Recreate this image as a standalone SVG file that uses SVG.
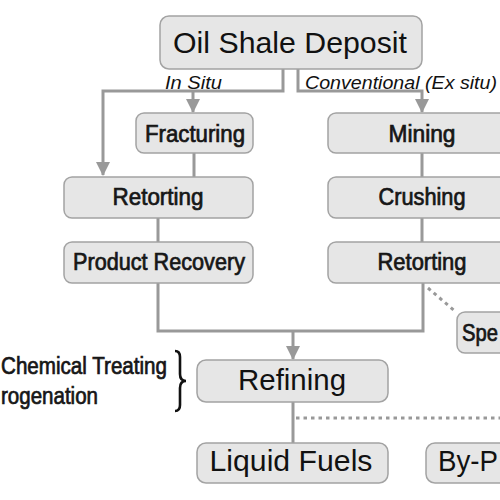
<svg xmlns="http://www.w3.org/2000/svg" width="500" height="500" viewBox="0 0 500 500">
<style>
.box{fill:#e6e6e6;stroke:#a3a3a3;stroke-width:1.5}
.big{font-family:"Liberation Sans",Arial,sans-serif;font-size:29.5px;fill:#111}
.mid{text-anchor:middle}
.lab{font-family:"Liberation Sans",Arial,sans-serif;font-size:23px;fill:#161616;stroke:#161616;stroke-width:0.7}
.it{font-family:"Liberation Sans",Arial,sans-serif;font-size:18.5px;font-style:italic;fill:#111}
.ln{fill:none;stroke:#999;stroke-width:3}
.dot{fill:none;stroke:#999;stroke-width:3;stroke-dasharray:3.5 4}
</style>
<defs>
<marker id="ah" markerUnits="userSpaceOnUse" markerWidth="14" markerHeight="14" viewBox="0 0 14 14" refX="13" refY="7" orient="auto">
<path d="M0,0 L14,7 L0,14 Z" fill="#999"/>
</marker>
</defs>
<g id="connectors">
<path class="ln" d="M283,69 V91 H103 V175" marker-end="url(#ah)"/>
<path class="ln" d="M193,91 V112" marker-end="url(#ah)"/>
<path class="ln" d="M298,69 V91 H422 V112" marker-end="url(#ah)"/>
<path class="ln" d="M194,153 V177"/>
<path class="ln" d="M158,218 V242"/>
<path class="ln" d="M422,153 V177"/>
<path class="ln" d="M422,218 V242"/>
<path class="ln" d="M158,283 V331 H423 V283"/>
<path class="ln" d="M293,331 V359" marker-end="url(#ah)"/>
<path class="ln" d="M293,402 V443"/>
<path class="dot" d="M296,418 H500"/>
<path class="dot" d="M428,288 L456,312"/>
</g>
<g id="oil-shale-deposit">
<rect class="box" x="160" y="16" width="262" height="53" rx="9"/>
<text class="big mid" x="290" y="53" textLength="234" lengthAdjust="spacingAndGlyphs">Oil Shale Deposit</text>
</g>
<text class="it" x="165" y="89" textLength="57" lengthAdjust="spacingAndGlyphs">In Situ</text>
<text class="it" x="305" y="89" textLength="192" lengthAdjust="spacingAndGlyphs">Conventional (Ex situ)</text>
<g id="fracturing">
<rect class="box" x="136" y="113" width="117" height="40" rx="8"/>
<text class="lab mid" x="195" y="142" textLength="100" lengthAdjust="spacingAndGlyphs">Fracturing</text>
</g>
<g id="retorting-insitu">
<rect class="box" x="64" y="177" width="189" height="41" rx="8"/>
<text class="lab mid" x="158" y="205" textLength="91" lengthAdjust="spacingAndGlyphs">Retorting</text>
</g>
<g id="product-recovery">
<rect class="box" x="64" y="242" width="189" height="41" rx="8"/>
<text class="lab mid" x="159" y="270" textLength="172" lengthAdjust="spacingAndGlyphs">Product Recovery</text>
</g>
<g id="mining">
<rect class="box" x="328" y="113" width="190" height="40" rx="8"/>
<text class="lab mid" x="422" y="142" textLength="67" lengthAdjust="spacingAndGlyphs">Mining</text>
</g>
<g id="crushing">
<rect class="box" x="328" y="177" width="190" height="41" rx="8"/>
<text class="lab mid" x="422" y="205" textLength="87" lengthAdjust="spacingAndGlyphs">Crushing</text>
</g>
<g id="retorting-exsitu">
<rect class="box" x="328" y="242" width="190" height="41" rx="8"/>
<text class="lab mid" x="422" y="270" textLength="89" lengthAdjust="spacingAndGlyphs">Retorting</text>
</g>
<g id="spent">
<rect class="box" x="457" y="312" width="80" height="41" rx="8"/>
<text class="lab" x="462" y="341" textLength="36" lengthAdjust="spacingAndGlyphs">Spe</text>
</g>
<g id="treatments">
<text class="lab" x="1" y="374" textLength="166" lengthAdjust="spacingAndGlyphs">Chemical Treating</text>
<text class="lab" x="1" y="404" textLength="97" lengthAdjust="spacingAndGlyphs">rogenation</text>
<path d="M175,351 Q180,351 180,357 V374 Q180,381 186,381 Q180,381 180,388 V405 Q180,411 175,411" fill="none" stroke="#111" stroke-width="2.6"/>
</g>
<g id="refining">
<rect class="box" x="197" y="360" width="191" height="42" rx="9"/>
<text class="big mid" x="292" y="390" textLength="108" lengthAdjust="spacingAndGlyphs">Refining</text>
</g>
<g id="liquid-fuels">
<rect class="box" x="197" y="443" width="191" height="40" rx="9"/>
<text class="big mid" x="291" y="471" textLength="163" lengthAdjust="spacingAndGlyphs">Liquid Fuels</text>
</g>
<g id="by-products">
<rect class="box" x="426" y="443" width="120" height="40" rx="9"/>
<text class="big" x="438" y="471" textLength="60" lengthAdjust="spacingAndGlyphs">By-P</text>
</g>
</svg>
